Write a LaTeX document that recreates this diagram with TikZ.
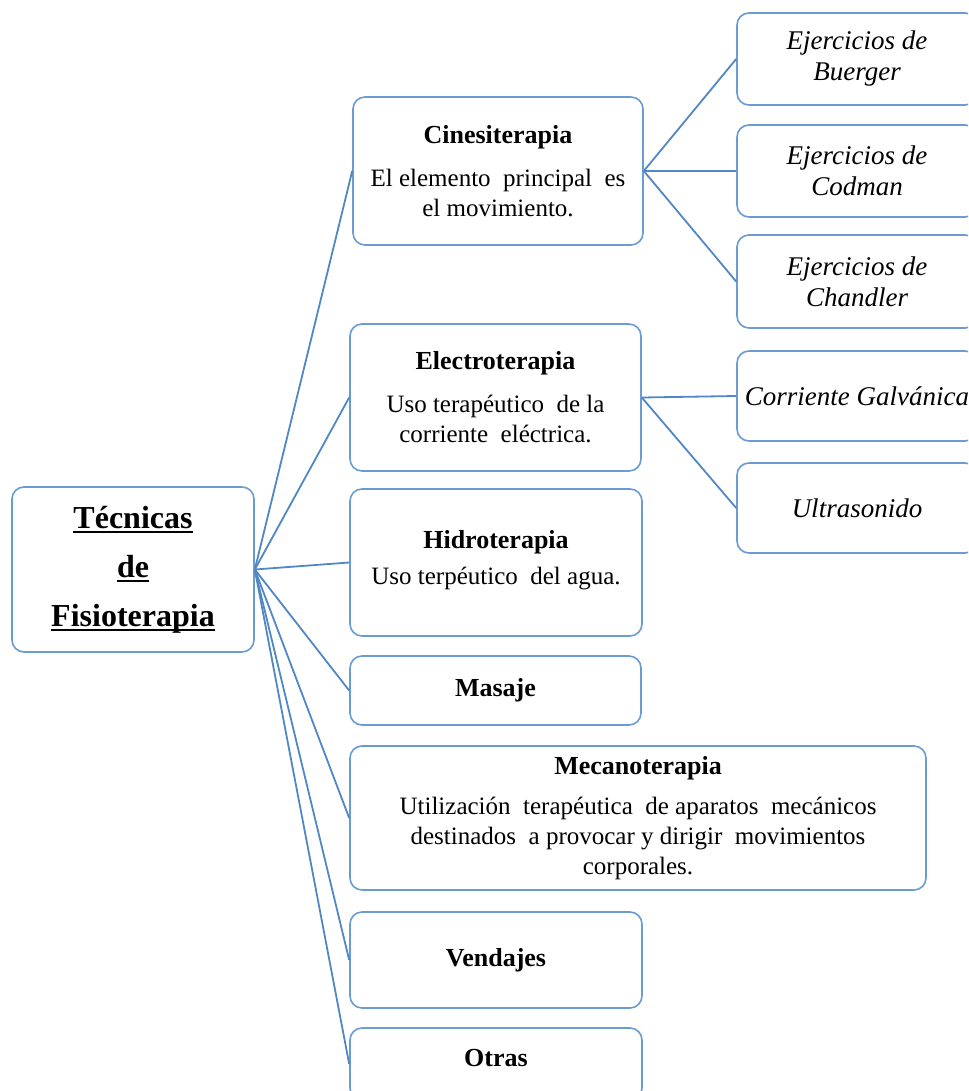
\documentclass[tikz,border=0pt]{standalone}
\usepackage{fontspec}
\setmainfont{Liberation Serif}

% one drawing unit = one pixel of the layout grid
\newlength\pxu
\setlength\pxu{0.75pt}

\definecolor{boxblue}{HTML}{6A9BD2}
\definecolor{linkblue}{HTML}{5087C4}

% type styles
\newcommand\ttl{\fontsize{19.5}{22.5}\selectfont\bfseries}
\newcommand\bdy{\normalfont\fontsize{18.75}{22.5}\selectfont}
\newcommand\itl{\normalfont\fontsize{20.25}{23.25}\selectfont\itshape}
\newcommand\roottxt{\normalfont\fontsize{24}{36.75}\selectfont\bfseries}
% heavy underline for the main heading
\newcommand\thickul[1]{\setbox0\hbox{#1}\rlap{\rule[-4.5\pxu]{\wd0}{2.2\pxu}}\box0}

\tikzset{
  box/.style={draw=boxblue, line width=1.6\pxu, rounded corners=12\pxu,
              align=center, inner sep=0pt, fill=white, font=\bdy},
  headbox/.style={box, font=\roottxt},
  subbox/.style={box, font=\itl},
  link/.style={draw=linkblue, line width=1.8\pxu},
}

\begin{document}
\begin{tikzpicture}[x=1\pxu, y=-1\pxu]
  \useasboundingbox (0,0) rectangle (968,1091);
  \clip (0,0) rectangle (968,1091);

  % main heading
  \node[headbox, minimum width=242\pxu, minimum height=165\pxu] (root) at (133,569.5)
    {\thickul{Técnicas}\\\thickul{de}\\\thickul{Fisioterapia}};

  % techniques
  \node[box, minimum width=290\pxu, minimum height=148\pxu] (cine) at (498,171)
    {{\ttl Cinesiterapia}\\[9.75pt]El elemento\ \ principal\ \ es\\el movimiento.};
  \node[box, minimum width=291\pxu, minimum height=147\pxu] (elec) at (495.5,397.5)
    {{\ttl Electroterapia}\\[9.75pt]Uso terapéutico\ \ de la\\corriente\ \ eléctrica.};
  \node[box, minimum width=292\pxu, minimum height=147\pxu] (hidro) at (496,562.5)
    {{\ttl Hidroterapia}\\[4pt]Uso terpéutico\ \ del agua.\rule[-10\pxu]{0pt}{0pt}};
  \node[box, minimum width=291\pxu, minimum height=69\pxu] (masaje) at (495.5,690.5)
    {\ttl Masaje};
  \node[box, minimum width=576\pxu, minimum height=144\pxu] (mecano) at (638,818)
    {{\ttl Mecanoterapia}\\[8pt]Utilización\ \ terapéutica\ \ de aparatos\ \ mecánicos\\
     destinados\ \ a provocar y dirigir\ \ movimientos\\corporales.};
  \node[box, minimum width=292\pxu, minimum height=96\pxu] (vend) at (496,960)
    {\ttl Vendajes};
  \node[box, minimum width=292\pxu, minimum height=72\pxu] (otras) at (496,1064)
    {\ttl Otras\rule[-12\pxu]{0pt}{12\pxu}};

  % exercise types
  \node[subbox, minimum width=240\pxu, minimum height=92\pxu] (buerger) at (857,59)
    {Ejercicios de\\Buerger};
  \node[subbox, minimum width=240\pxu, minimum height=92\pxu] (codman) at (857,171)
    {Ejercicios de\\Codman};
  \node[subbox, minimum width=240\pxu, minimum height=93\pxu] (chandler) at (857,281.5)
    {Ejercicios de\\Chandler};

  % current types
  \node[subbox, minimum width=240\pxu, minimum height=90\pxu] (galv) at (857,396)
    {Corriente Galvánica};
  \node[subbox, minimum width=240\pxu, minimum height=90\pxu] (ultra) at (857,508)
    {Ultrasonido};

  % connectors
  \foreach \t in {cine,elec,hidro,masaje,mecano,vend,otras}
    \draw[link] (root.east) -- (\t.west);
  \foreach \t in {buerger,codman,chandler}
    \draw[link] (cine.east) -- (\t.west);
  \foreach \t in {galv,ultra}
    \draw[link] (elec.east) -- (\t.west);
\end{tikzpicture}
\end{document}
